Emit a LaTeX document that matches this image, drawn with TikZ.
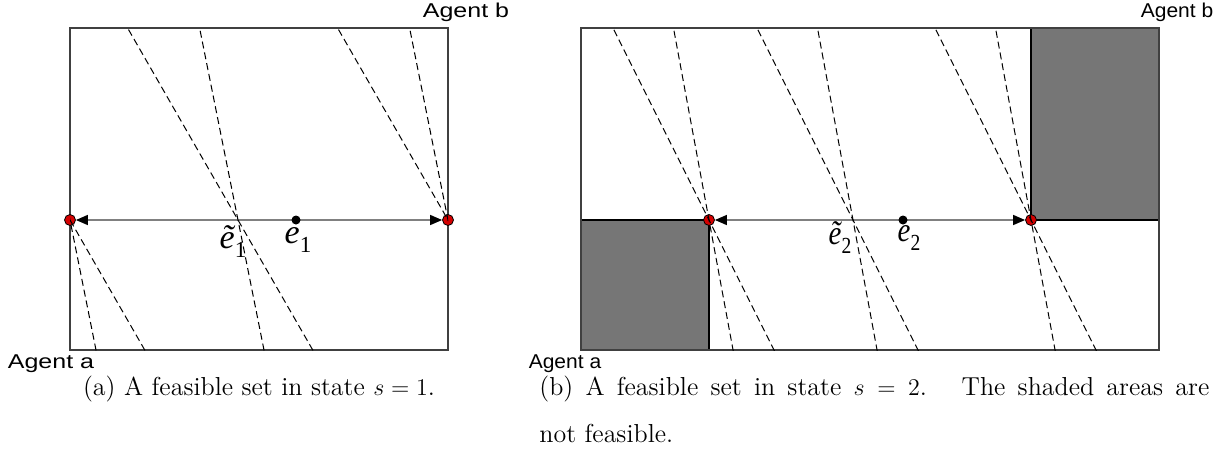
\documentclass[tikz,border=0pt]{standalone}
\usepackage{fontspec}
\newfontfamily\arial{Liberation Sans}
\newfontfamily\tms{Liberation Serif}
\usetikzlibrary{arrows.meta,calc}
\definecolor{dotred}{HTML}{D40000}
\definecolor{shade}{HTML}{767676}
\newcommand{\elbl}[2]{{\itshape #1}\raisebox{-4.5pt}{\fontsize{11.5}{11.5}\selectfont #2}}
\tikzset{
  frame/.style={draw=black!75,line width=0.6pt},
  guide/.style={dash pattern=on 3.5pt off 2pt,line width=0.5pt},
  reddot/.style={circle,draw=black,line width=0.4pt,fill=dotred,minimum size=5.5pt,inner sep=0pt},
  edot/.style={circle,fill=black,minimum size=4.5pt,inner sep=0pt},
  ar/.style={{Triangle[length=6pt,width=5pt,color=black]}-{Triangle[length=6pt,width=5pt,color=black]},draw=black!50,line width=0.7pt},
  agent/.style={font=\arial\fontsize{10}{12}\selectfont,inner sep=0pt},
  elab/.style={font=\tms\fontsize{17}{17}\selectfont,inner sep=0pt},
  captxt/.style={font=\fontsize{13}{16}\selectfont,inner sep=0pt,anchor=base west},
  nofeas/.style={fill=shade,draw=black,line width=0.7pt},
}
\begin{document}
\begin{tikzpicture}[x=0.5pt,y=-0.5pt]
\useasboundingbox (0,0) rectangle (1225,456);
% (a) state s = 1
\draw[frame] (70,28) rectangle (448,350);
\node[reddot] (la) at (70,220) {};
\node[reddot] (lb) at (448,220) {};
\coordinate (lt) at (238,220);
\draw[ar] (la) -- (lb);
\node[edot] (le) at (296,220) {};
\begin{scope}
  \clip (70,28) rectangle (448,350);
  \foreach \p in {la,lt,lb}
    \foreach \s in {0.2,0.575}
      \draw[guide] ($(\p)+(-\s*200,-200)$) -- ($(\p)+(\s*140,140)$);
\end{scope}
\node[elab] (lelt) at (233,242) {\elbl{ẽ}{1}};
\node[elab] (lel) at (298,240) {\elbl{e}{1}};
\node[agent,xscale=1.25] (lagb) at (466,12) {Agent b};
\node[agent,xscale=1.25] (laga) at (51,364) {Agent a};
\node[captxt,anchor=base] (lcap) at (259,395) {(a) A feasible set in state $s = 1$.};
% (b) state s = 2
\draw[nofeas] (581,220) rectangle (709,350);
\draw[nofeas] (1031,28) rectangle (1159,220);
\draw[frame] (581,28) rectangle (1159,350);
\node[reddot] (ra) at (709,220) {};
\node[reddot] (rb) at (1031,220) {};
\coordinate (rt) at (853,220);
\draw[ar] (ra) -- (rb);
\node[edot] (re) at (903,220) {};
\begin{scope}
  \clip (581,28) rectangle (1159,350);
  \foreach \p in {ra,rt,rb}
    \foreach \s in {0.185,0.5}
      \draw[guide] ($(\p)+(-\s*200,-200)$) -- ($(\p)+(\s*140,140)$);
\end{scope}
\node[elab,xscale=0.85] (relt) at (840,238) {\elbl{ẽ}{2}};
\node[elab,xscale=0.85] (rel) at (909,238) {\elbl{e}{2}};
\node[agent,xscale=1.05] (ragb) at (1177,12) {Agent b};
\node[agent,xscale=1.05] (raga) at (565,364) {Agent a};
\node[captxt] (rcap) at (539,395) {\makebox[335pt][s]{(b) A feasible set in state $s = 2$. \ The shaded areas are}};
\node[captxt] (rcap2) at (539,442) {not feasible.};
\end{tikzpicture}
\end{document}
